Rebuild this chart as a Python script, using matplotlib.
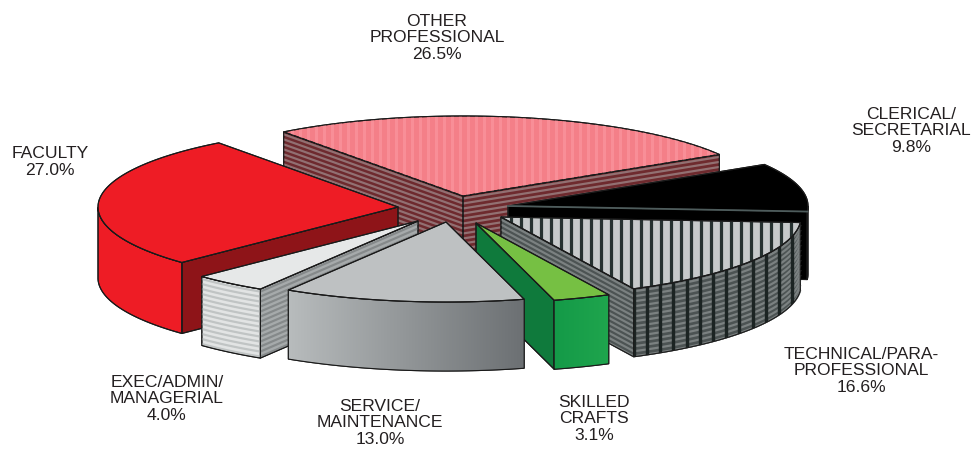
import numpy as np
import matplotlib
matplotlib.use("Agg")
import matplotlib.pyplot as plt
from matplotlib.patches import Polygon
from matplotlib.colors import LinearSegmentedColormap

plt.rcParams['font.family'] = ['Liberation Sans', 'DejaVu Sans']

# ---- data ----
categories = ["OTHER\nPROFESSIONAL", "CLERICAL/\nSECRETARIAL", "TECHNICAL/PARA-\nPROFESSIONAL",
              "SKILLED\nCRAFTS", "SERVICE/\nMAINTENANCE", "EXEC/ADMIN/\nMANAGERIAL", "FACULTY"]
values = [26.5, 9.8, 16.6, 3.1, 13.0, 4.0, 27.0]

# ---- geometry / style (pixels in a 979x456 canvas) ----
START = 126.7
RX, RY = 300, 80
apex = [(463, 197), (508, 207), (501, 218), (476, 224), (446, 223), (418, 222), (398, 208)]
depth = [60, 68, 68, 69, 69, 69, 71]
label_pos = [(437, 38), (911, 131), (861, 371), (594, 419), (380, 423), (167, 399), (50, 162)]

fig = plt.figure(figsize=(9.79, 4.56), dpi=100)
ax = fig.add_axes([0, 0, 1, 1])
ax.axis('off')


def arc(c, t0, t1, n=80):
    t = np.radians(np.linspace(t0, t1, n))
    return np.column_stack([c[0] + RX * np.cos(t), c[1] - RY * np.sin(t)])


def face(top, d):
    return np.vstack([top, top[::-1] + [0, d]])


def fill(poly, fc, z, ec='#1a1a1a', lw=0.8):
    p = Polygon(poly, closed=True, fc=fc, ec=ec, lw=lw, zorder=z, joinstyle='round')
    ax.add_patch(p)
    return p


def h_stripes(top, d, color, z, period=5.0, lw=2.2):
    """stripes that follow the top edge of a wall"""
    for off in np.arange(period * 0.5, d, period):
        ax.plot(top[:, 0], top[:, 1] + off, color=color, lw=lw * 0.72, zorder=z, solid_capstyle='butt')


def v_stripes(patch, poly, color, z, period, lw, phase=0.0):
    x0, x1 = poly[:, 0].min(), poly[:, 0].max()
    y0, y1 = poly[:, 1].min(), poly[:, 1].max()
    for x in np.arange(x0 + phase, x1, period):
        ln, = ax.plot([x, x], [y0, y1], color=color, lw=lw * 0.72, zorder=z, solid_capstyle='butt')
        ln.set_clip_path(patch)


def gradient(patch, poly, c0, c1, z):
    x0, x1 = poly[:, 0].min(), poly[:, 0].max()
    y0, y1 = poly[:, 1].min(), poly[:, 1].max()
    cmap = LinearSegmentedColormap.from_list('g', [c0, c1])
    im = ax.imshow(np.linspace(0, 1, 256)[None, :], extent=[x0, x1, y1, y0], cmap=cmap,
                   aspect='auto', zorder=z)
    im.set_clip_path(patch)


def outline(poly, z, ec='#1a1a1a', lw=0.8):
    ax.add_patch(Polygon(poly, closed=True, fc='none', ec=ec, lw=lw, zorder=z))


styles = [
    dict(top='#F47F88', top_v=('#F88E97', 8, 3), wall='#6E2A2E', stripe='#927072', outer='#6E2A2E'),
    dict(top='#000000', wall='#000000', outer='#000000'),
    dict(top='#C6C9CA', top_v=('#263130', 10, 3.2), wall='#4C5353', stripe='#7B8181',
         outer='#4C5353', outer_stripe='#7B8181', outer_v=('#1C2423', 13.2, 3.4)),
    dict(top='#76C043', wall='#0F7A3C', outer_grad=('#149A48', '#1FA54D')),
    dict(top='#BEC1C2', wall='#A0A4A5', outer_grad=('#B8BCBD', '#6C7073')),
    dict(top='#E6E8E8', wall='#A6AAAB', stripe='#85898A', outer='#E2E4E4', outer_stripe='#C0C4C4'),
    dict(top='#EE1C25', wall='#8E1418', outer='#EE1C25'),
]

# ---- wedges, in back-to-front order ----
angles = START - np.concatenate([[0], np.cumsum(values)]) * 3.6
for i in [0, 1, 2, 6, 5, 3, 4]:
    t0, t1 = angles[i], angles[i + 1]
    c, d, s = np.array(apex[i], float), depth[i], styles[i]
    z = 10 + 10 * [0, 1, 2, 6, 5, 3, 4].index(i)
    rim = arc(c, t0, t1)
    top_poly = np.vstack([[c], rim])

    # radial side walls that face the viewer
    for t, pt in ((t0, rim[0]), (t1, rim[-1])):
        facing = np.cos(np.radians(t)) < 0 if t == t0 else np.cos(np.radians(t)) > 0
        if facing:
            edge = np.array([c, pt])
            wall = face(edge, d)
            fill(wall, s['wall'], z)
            if 'stripe' in s:
                h_stripes(edge, d, s['stripe'], z + 1)
            outline(wall, z + 2)

    # outer curved wall: only where the rim is at the front
    t_all = np.linspace(t0, t1, 200)
    front = t_all[np.sin(np.radians(t_all)) <= 0]
    if len(front) > 1:
        edge = arc(c, front[0], front[-1])
        wall = face(edge, d)
        p = fill(wall, s.get('outer', '#888888'), z + 3)
        if 'outer_grad' in s:
            gradient(p, wall, *s['outer_grad'], z + 3.5)
        if 'outer_stripe' in s:
            h_stripes(edge, d, s['outer_stripe'], z + 4)
        if 'outer_v' in s:
            col, per, lw = s['outer_v']
            v_stripes(p, wall, col, z + 4.5, per, lw)
        outline(wall, z + 5)

    # top surface
    p = fill(top_poly, s['top'], z + 6)
    if 'top_v' in s:
        col, per, lw = s['top_v']
        v_stripes(p, top_poly, col, z + 7, per, lw)
    outline(top_poly, z + 8, lw=0.8)
    if i == 1:
        ax.plot([c[0], rim[-1][0]], [c[1], rim[-1][1]], color='#4E5C5C', lw=1.3, zorder=z + 9)

# ---- labels ----
for name, v, (x, y) in zip(categories, values, label_pos):
    ax.text(x, y, f"{name}\n{v:.1f}%", ha='center', va='center', fontsize=12.6,
            color='#231F20', linespacing=1.12, zorder=200)

ax.set_xlim(0, 979)
ax.set_ylim(456, 0)
fig.savefig('out.png', dpi=100, facecolor='white')
